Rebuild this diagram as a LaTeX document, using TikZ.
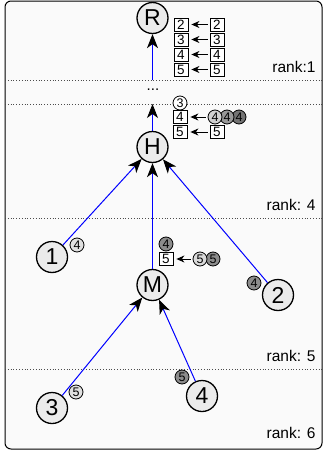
\documentclass[tikz,border=0pt]{standalone}
\usepackage{fontspec}
\setmainfont{Liberation Sans}
\usetikzlibrary{arrows.meta}

\tikzset{
  vertex/.style={circle,draw,line width=1.3pt,fill=black!8,minimum size=31pt,inner sep=0pt,font=\fontsize{23}{23}\selectfont},
  slot/.style={rectangle,draw,line width=0.8pt,fill=white,minimum width=14pt,minimum height=13pt,inner sep=0pt,font=\fontsize{13.5}{13.5}\selectfont},
  tag/.style={circle,draw,line width=0.8pt,minimum size=14pt,inner sep=0pt,font=\fontsize{12.5}{12.5}\selectfont},
  link/.style={blue,line width=1pt,-{Stealth[black,length=14pt,width=11pt,inset=4pt]}},
  move/.style={line width=1pt,-{Stealth[length=8pt,width=7pt,inset=2.5pt]},shorten <=2pt,shorten >=3pt},
  level/.style={dotted,thick,black!70},
  rank/.style={anchor=east,font=\fontsize{15.5}{15.5}\selectfont}
}

\begin{document}
\begin{tikzpicture}[x=1pt,y=-1pt]
\useasboundingbox (0,0) rectangle (323,450);

\draw[fill=black!2,line width=1pt,rounded corners=6pt] (5,1) rectangle (322,449);

\draw[level] (5,80) -- (322,80);
\draw[level] (5,104) -- (322,104);
\draw[level] (5,218) -- (322,218);
\draw[level] (5,369) -- (322,369);

\node[rank] at (319,67) {rank:1};
\node[rank] at (319,205) {rank: 4};
\node[rank] at (319,356) {rank: 5};
\node[rank] at (319,433) {rank: 6};

\node[vertex] (R) at (152.5,18) {R};
\node[vertex] (H) at (152.5,147) {H};
\node[vertex] (M) at (152.5,285) {M};
\node[vertex] (1) at (52,257) {1};
\node[vertex] (2) at (278,295) {2};
\node[vertex] (3) at (52,408) {3};
\node[vertex] (4) at (202,396) {4};

\node[font=\fontsize{15}{15}\selectfont] (dots) at (153,90) {...};
\coordinate (up) at (152.5,80);
\coordinate (low) at (152.5,104);

\draw[link] (up) -- (R);
\draw[link] (H) -- (low);
\draw[link] (1) -- (H);
\draw[link] (M) -- (H);
\draw[link] (2) -- (H);
\draw[link] (3) -- (M);
\draw[link] (4) -- (M);

% buffers at R
\foreach \d [count=\i] in {2,3,4,5} {
  \node[slot] (r\d) at (181,9.5+15*\i) {\d};
  \node[slot] (s\d) at (217,9.5+15*\i) {\d};
  \draw[move] (s\d) -- (r\d);
}

% buffers at H
\node[tag,fill=white] (h3) at (180,103) {3};
\node[slot] (h4) at (180,117) {4};
\node[slot] (h5) at (180,132) {5};
\node[tag,fill=black!55] (k4c) at (239,117) {4};
\node[tag,fill=black!40] (k4b) at (227,117) {4};
\node[tag,fill=black!18] (k4a) at (215,117) {4};
\node[slot] (k5) at (217,132) {5};
\draw[move] (k4a) -- (h4);
\draw[move] (k5) -- (h5);

% buffers at M
\node[tag,fill=black!45] (m4) at (166,244) {4};
\node[slot] (m5) at (166,259) {5};
\node[tag,fill=black!45] (n5b) at (213,259) {5};
\node[tag,fill=black!15] (n5a) at (200,259) {5};
\draw[move] (n5a) -- (m5);

% leaf tags
\node[tag,fill=black!12] (t1) at (77,245) {4};
\node[tag,fill=black!45] (t2) at (254,283) {4};
\node[tag,fill=black!12] (t3) at (76,392) {5};
\node[tag,fill=black!45] (t4) at (182,377) {5};
\end{tikzpicture}
\end{document}
